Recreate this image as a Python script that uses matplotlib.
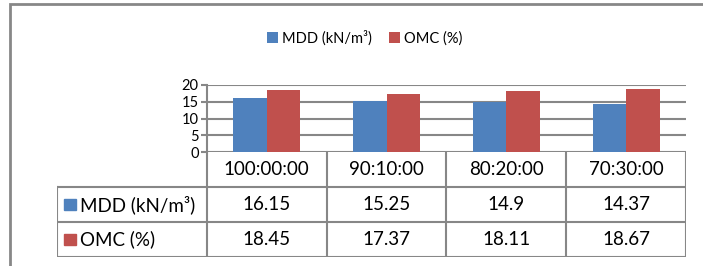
import matplotlib.pyplot as plt
from matplotlib.patches import Rectangle

categories = ["100:00:00", "90:10:00", "80:20:00", "70:30:00"]
mdd = [16.15, 15.25, 14.9, 14.37]
omc = [18.45, 17.37, 18.11, 18.67]
mdd_text = ["16.15", "15.25", "14.9", "14.37"]
omc_text = ["18.45", "17.37", "18.11", "18.67"]
series_names = ["MDD (kN/m³)", "OMC (%)"]
colors = ["#4F81BD", "#C0504D"]
yticks = [0, 5, 10, 15, 20]

plt.rcParams['font.family'] = ['Lato', 'DejaVu Sans']
GRID = "#878787"
W, H = 703, 266

fig = plt.figure(figsize=(W / 100, H / 100), dpi=100)

# outer chart border
fig.patches.append(Rectangle((10 / W, -0.1), 1.2, 1 - 4 / H + 0.1, transform=fig.transFigure,
                             fill=False, edgecolor=GRID, linewidth=2))

# bar chart
ax = fig.add_axes([207 / W, 1 - 152 / H, 479 / W, 67 / H])
x = list(range(len(categories)))
bw = 0.28
ax.bar([i - bw / 2 for i in x], mdd, bw, color=colors[0], label=series_names[0], zorder=3)
ax.bar([i + bw / 2 for i in x], omc, bw, color=colors[1], label=series_names[1], zorder=3)
ax.set_xlim(-0.5, len(categories) - 0.5)
ax.set_ylim(0, 20)
ax.set_yticks(yticks)
ax.yaxis.grid(True, color=GRID, linewidth=1.5, zorder=0)
ax.set_xticks([])
for s in ["top", "right", "bottom"]:
    ax.spines[s].set_visible(False)
ax.spines["left"].set_color(GRID)
ax.spines["left"].set_linewidth(1.5)
ax.tick_params(axis="y", length=4, width=1.5, color=GRID, labelsize=10.5, pad=2)

fig.legend(loc="center", bbox_to_anchor=(0.519, 1 - 38 / H), ncol=2, frameon=False,
           fontsize=10.5, handlelength=0.7, handleheight=0.7, columnspacing=1.2, handletextpad=0.3)

# data table below the chart
tab = fig.add_axes([57 / W, 1 - 257 / H, 629 / W, 105 / H])
n = len(categories)
lab_w = 1.25
tab.set_xlim(-lab_w, n)
tab.set_ylim(0, 3)
tab.axis("off")
lw = 1.5
for xv in range(n + 1):
    tab.plot([xv, xv], [0, 3], color=GRID, lw=lw, solid_capstyle="butt")
tab.plot([-lab_w, -lab_w], [0, 2], color=GRID, lw=lw)
for yv in [0, 1, 2]:
    tab.plot([-lab_w, n], [yv, yv], color=GRID, lw=lw)

fs = 13.5
for i, c in enumerate(categories):
    tab.text(i + 0.5, 2.5, c, ha="center", va="center", fontsize=fs)
    tab.text(i + 0.5, 1.5, mdd_text[i], ha="center", va="center", fontsize=fs)
    tab.text(i + 0.5, 0.5, omc_text[i], ha="center", va="center", fontsize=fs)

for r, (name, col) in enumerate(zip(series_names, colors)):
    yc = 1.5 - r
    tab.add_patch(Rectangle((-lab_w + 0.06, yc - 0.17), 0.1, 0.34, color=col))
    tab.text(-lab_w + 0.19, yc, name, ha="left", va="center", fontsize=fs)

fig.savefig("out.png", dpi=100)
